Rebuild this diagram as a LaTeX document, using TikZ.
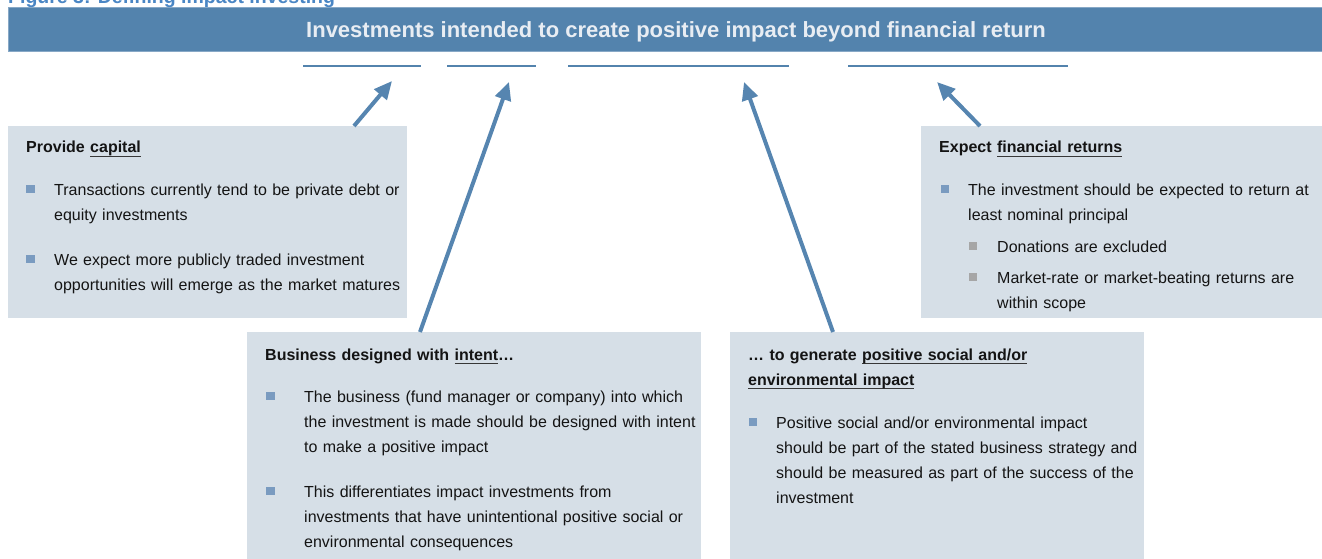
\documentclass[tikz,border=0pt]{standalone}
\usepackage{fontspec}
\setmainfont{Liberation Sans}
\usetikzlibrary{arrows.meta}
\definecolor{bannerc}{HTML}{5383AD}
\definecolor{bannertxt}{HTML}{E8EDF3}
\definecolor{boxfill}{HTML}{D6DFE7}
\definecolor{arrowc}{HTML}{5685B0}
\definecolor{bulletc}{HTML}{7A9BC0}
\definecolor{subbul}{HTML}{A6A6A6}
\definecolor{txtc}{HTML}{141414}
\definecolor{figtitle}{HTML}{4A86C4}
\newcommand\myul[1]{\leavevmode\setbox0\hbox{#1}\rlap{\color{txtc!85}\rule[-4pt]{\wd0}{1.1pt}}\box0}
\begin{document}
\begin{tikzpicture}[x=1pt,y=-1pt,
  infobox/.style={fill=boxfill, draw=none, inner sep=0, anchor=north west},
  bt/.style={anchor=base west, inner sep=0, text width=420, align=left, text=txtc,
    font=\fontsize{16}{25}\selectfont},
  hd/.style={bt, font=\bfseries\fontsize{16}{25}\selectfont},
  bsq/.style={fill=bulletc, inner sep=0, minimum size=8.5, draw=none},
  ssq/.style={fill=subbul, inner sep=0, minimum size=8.5, draw=none},
  arr/.style={draw=arrowc, line width=4, -{Triangle[length=18pt,width=16pt]}, fill=arrowc},
  ulline/.style={draw=bannerc, line width=2}]
\useasboundingbox (0,0) rectangle (1322,559);
\clip (0,0) rectangle (1322,559);
% figure title (cut off at top, as in the source)
\node[anchor=base west, inner sep=0, text=figtitle, font=\bfseries\fontsize{19.5}{22}\selectfont] (figt) at (8,4) {Figure 3: Defining impact investing};
% banner
\node[fill=bannerc, draw=bannerc!70!white, line width=1, inner sep=0, anchor=north west, minimum width=1314, minimum height=44] (ban) at (8,7) {};
\node[anchor=base, inner sep=0, text=bannertxt, font=\bfseries\fontsize{22}{24}\selectfont] (bantxt) at (676,38) {Investments intended to create positive impact beyond financial return};
% underlines
\draw[ulline] (303,66.5) -- (421,66.5);
\draw[ulline] (447,66.5) -- (536,66.5);
\draw[ulline] (568,66.5) -- (789,66.5);
\draw[ulline] (848,66.5) -- (1068,66.5);
% boxes
\node[infobox, minimum width=399, minimum height=192] (capbox) at (8,126) {};
\node[infobox, minimum width=401, minimum height=192] (retbox) at (921,126) {};
\node[infobox, minimum width=454, minimum height=228] (intbox) at (247,332) {};
\node[infobox, minimum width=414, minimum height=228] (genbox) at (730,332) {};
% arrow tips
\coordinate (t1) at (392,81);
\coordinate (t2) at (509,82);
\coordinate (t3) at (744,82);
\coordinate (t4) at (937,82);
\draw[arr] (capbox.north west) ++(346,0) -- (t1);
\draw[arr] (intbox.north west) ++(173,0) -- (t2);
\draw[arr] (genbox.north west) ++(103,0) -- (t3);
\draw[arr] (retbox.north west) ++(59,0) -- (t4);
% left box
\node[hd] (capt) at (26,153) {Provide \myul{capital}};
\node[bsq] (cb1) at (30.5,189) {};
\node[bt] (cp1) at (54,195) {Transactions currently tend to be private debt or\\equity investments};
\node[bsq] (cb2) at (30.5,259) {};
\node[bt] (cp2) at (54,265) {We expect more publicly traded investment\\opportunities will emerge as the market matures};
% right box
\node[hd] (rett) at (939,153) {Expect \myul{financial returns}};
\node[bsq] (rb1) at (945,189) {};
\node[bt] (rp1) at (968,195) {The investment should be expected to return at\\least nominal principal};
\node[ssq] (rs1) at (973,246) {};
\node[bt] (rp2) at (997,252) {Donations are excluded};
\node[ssq] (rs2) at (973,277) {};
\node[bt] (rp3) at (997,283) {Market-rate or market-beating returns are\\within scope};
% business box
\node[hd] (intt) at (265,360) {Business designed with \myul{intent}…};
\node[bsq] (ib1) at (270.5,396) {};
\node[bt] (ip1) at (304,402) {The business (fund manager or company) into which\\the investment is made should be designed with intent\\to make a positive impact};
\node[bsq] (ib2) at (270.5,491) {};
\node[bt] (ip2) at (304,497) {This differentiates impact investments from\\investments that have unintentional positive social or\\environmental consequences};
% generate box
\node[hd] (gent) at (748,360) {… to generate \myul{positive social and/or}\\\myul{environmental impact}};
\node[bsq] (gb1) at (753,422) {};
\node[bt] (gp1) at (776,428) {Positive social and/or environmental impact\\should be part of the stated business strategy and\\should be measured as part of the success of the\\investment};
\end{tikzpicture}
\end{document}
